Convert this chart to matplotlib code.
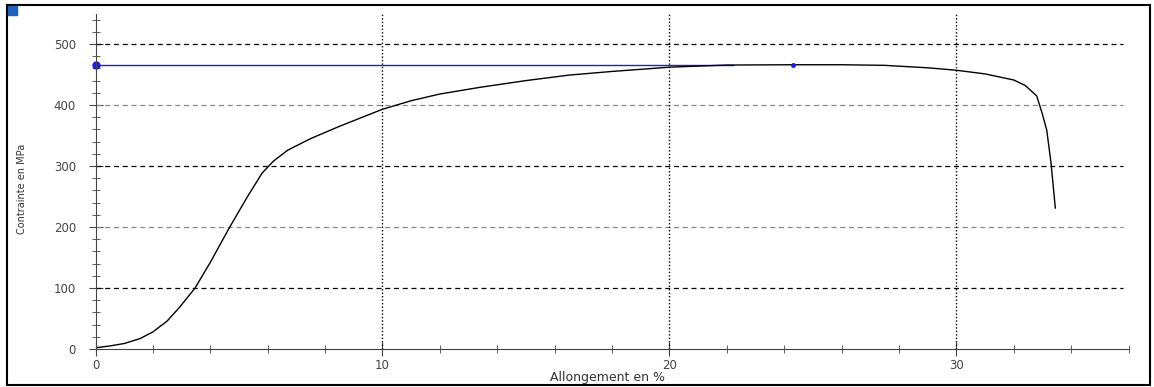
import matplotlib.pyplot as plt
from matplotlib.patches import Rectangle
from matplotlib.ticker import MultipleLocator

# courbe de traction
allongement = [0, 0.5, 1, 1.55, 2, 2.5, 2.94, 3.47, 4, 4.68, 5.3, 5.8, 6.2, 6.7, 7.5, 8.5,
               10, 11, 12, 13.4, 15, 16.5, 18, 20, 22, 24.3, 26, 27.5, 29, 30, 31,
               32, 32.4, 32.8, 33.0, 33.15, 33.3, 33.45]
contrainte = [2, 5, 9, 17, 28, 46, 69, 100, 142, 200, 250, 288, 308, 326, 345, 365,
              393, 407, 418, 429, 440, 449, 455, 462, 465.5, 466, 466, 465, 461, 457, 451,
              441, 432, 415, 385, 359, 305, 231]

rm = 466
rm_x = 24.3
x_fin_ligne = 22.2

grid_y = [100, 200, 300, 400, 500]
grid_x = [10, 20, 30]

fig = plt.figure(figsize=(11.54, 3.87), dpi=100)
ax = fig.add_axes([95.5 / 1154, 38 / 387, 1033 / 1154, 335.5 / 387])

# cadre + carré bleu
fig.patches.append(Rectangle((7 / 1154, 2 / 387), 1143 / 1154, 380 / 387,
                             transform=fig.transFigure, fill=False,
                             edgecolor='black', linewidth=1.5))
fig.patches.append(Rectangle((8 / 1154, 372 / 387), 9 / 1154, 9 / 387,
                             transform=fig.transFigure, color='#1f5fbf'))

for i, yv in enumerate(grid_y):
    c = 'black' if i % 2 == 0 else '#888888'
    ax.plot([0, 35.8], [yv, yv], color=c, linestyle=(0, (4, 3)), linewidth=0.9)
for xv in grid_x:
    ax.plot([xv, xv], [0, 553], color='black', linestyle=(0, (1, 1.5)), linewidth=1)

ax.plot([0, x_fin_ligne], [rm, rm], color='#2222cc', linewidth=1)
ax.plot(allongement, contrainte, color='black', linewidth=1)
ax.plot([0], [rm], 'o', color='#1a1aee', markersize=5, clip_on=False)
ax.plot([rm_x], [rm], 'o', color='#1a1aee', markersize=2.5)

ax.set_xlim(0, 36)
ax.set_ylim(0, 550)
ax.spines['top'].set_visible(False)
ax.spines['right'].set_visible(False)
ax.spines['left'].set_color('#444444')
ax.spines['bottom'].set_color('#444444')

ax.xaxis.set_major_locator(MultipleLocator(10))
ax.xaxis.set_minor_locator(MultipleLocator(2))
ax.yaxis.set_major_locator(MultipleLocator(100))
ax.yaxis.set_minor_locator(MultipleLocator(20))
ax.tick_params(which='both', direction='inout', color='#444444',
               labelsize=8.5, labelcolor='#444444')
ax.tick_params(which='major', length=10)
ax.tick_params(which='minor', length=6)
ax.tick_params(axis='y', pad=9)
ax.tick_params(axis='x', pad=2)

ax.set_xlabel('Allongement en %', fontsize=9, color='#333333')
ax.xaxis.set_label_coords((607 - 95.5) / 1033, -(377 - 349) / 335.5)
ax.xaxis.label.set_va('center')
ax.set_ylabel('Contrainte en MPa', fontsize=7, color='#333333')
ax.yaxis.set_label_coords((22 - 95.5) / 1033, (349 - 189) / 335.5)
ax.yaxis.label.set_va('center')
ax.patch.set_visible(False)

plt.savefig('out.png', dpi=100)
